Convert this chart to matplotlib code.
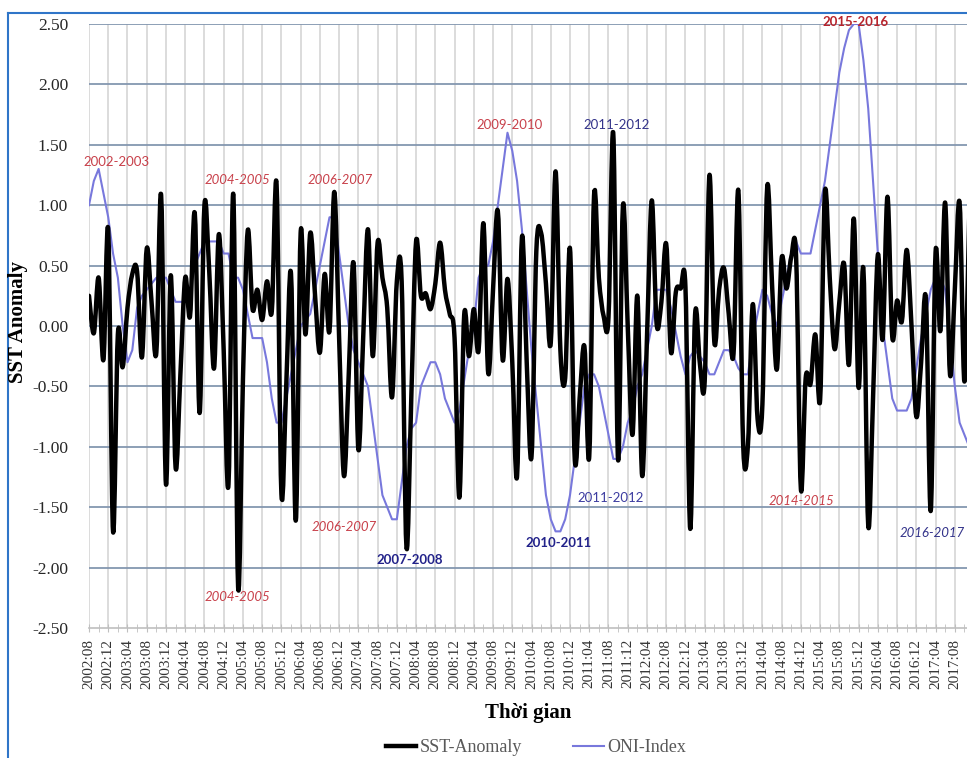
import matplotlib
matplotlib.use('Agg')
import matplotlib.pyplot as plt
from matplotlib.path import Path
from matplotlib.patches import PathPatch
from matplotlib.lines import Line2D
import numpy as np

# monthly series, 2002:08 onwards (month index 0 = 2002:08)
sst = [0.25, -0.06, 0.40, -0.28, 0.79, -1.70, -0.07, -0.34, 0.15, 0.43,
       0.45, -0.26, 0.64, 0.20, -0.22, 1.08, -1.31, 0.42, -1.17, -0.40,
       0.40, 0.08, 0.93, -0.72, 1.00, 0.45, -0.35, 0.76, -0.20, -1.31,
       1.09, -2.16, -0.45, 0.79, 0.14, 0.30, 0.05, 0.37, 0.12, 1.17,
       -1.39, -0.50, 0.43, -1.61, 0.77, -0.07, 0.77, 0.25, -0.22, 0.43,
       -0.04, 1.11, -0.10, -1.24, -0.40, 0.52, -1.02, -0.10, 0.80, -0.25,
       0.69, 0.40, 0.15, -0.59, 0.37, 0.37, -1.83, -0.60, 0.70, 0.25,
       0.27, 0.14, 0.35, 0.69, 0.30, 0.10, -0.10, -1.42, 0.09, -0.25,
       0.14, -0.20, 0.85, -0.39, 0.30, 0.95, -0.28, 0.39, -0.30, -1.24,
       0.73, -0.30, -1.08, 0.62, 0.77, 0.35, -0.14, 1.28, -0.20, -0.43,
       0.64, -1.11, -0.60, -0.17, -1.08, 1.08, 0.40, 0.08, 0.07, 1.59,
       -1.11, 0.99, 0.00, -0.90, 0.25, -1.24, -0.10, 1.04, 0.02, 0.20,
       0.68, -0.22, 0.28, 0.31, 0.32, -1.68, 0.09, -0.31, -0.46, 1.25,
       -0.13, 0.30, 0.48, 0.10, -0.23, 1.12, -0.98, -0.98, 0.18, -0.77,
       -0.65, 1.15, 0.35, -0.36, 0.56, 0.31, 0.57, 0.58, -1.35, -0.43,
       -0.48, -0.07, -0.61, 1.11, 0.40, -0.19, 0.20, 0.51, -0.32, 0.89,
       -0.51, 0.47, -1.65, -0.60, 0.59, -0.11, 1.07, -0.09, 0.21, 0.04,
       0.63, 0.00, -0.75, -0.30, 0.22, -1.53, 0.61, -0.04, 1.02, -0.40,
       0.30, 1.02, -0.46, 0.90]

oni = [1.0, 1.2, 1.3, 1.1, 0.9, 0.6, 0.4, 0.0, -0.3, -0.2,
       0.15, 0.25, 0.3, 0.35, 0.4, 0.4, 0.4, 0.3, 0.2, 0.2,
       0.2, 0.3, 0.5, 0.6, 0.7, 0.7, 0.7, 0.7, 0.6, 0.6,
       0.4, 0.4, 0.3, 0.1, -0.1, -0.1, -0.1, -0.3, -0.6, -0.8,
       -0.8, -0.6, -0.4, -0.2, 0.0, 0.05, 0.1, 0.3, 0.5, 0.7,
       0.9, 0.9, 0.6, 0.3, 0.0, -0.2, -0.3, -0.4, -0.5, -0.8,
       -1.1, -1.4, -1.5, -1.6, -1.6, -1.3, -1.0, -0.85, -0.8, -0.5,
       -0.4, -0.3, -0.3, -0.4, -0.6, -0.7, -0.8, -0.7, -0.45, -0.2,
       0.0, 0.4, 0.5, 0.5, 0.7, 1.0, 1.3, 1.6, 1.45, 1.2,
       0.8, 0.3, -0.2, -0.6, -1.0, -1.4, -1.6, -1.7, -1.7, -1.6,
       -1.4, -1.1, -0.8, -0.5, -0.4, -0.4, -0.5, -0.7, -0.9, -1.1,
       -1.1, -1.0, -0.8, -0.7, -0.5, -0.4, -0.2, 0.0, 0.3, 0.3,
       0.3, 0.15, -0.05, -0.25, -0.4, -0.25, -0.2, -0.25, -0.3, -0.4,
       -0.4, -0.3, -0.2, -0.2, -0.25, -0.35, -0.4, -0.4, -0.1, 0.1,
       0.3, 0.25, 0.1, 0.0, 0.2, 0.4, 0.6, 0.7, 0.6, 0.6,
       0.6, 0.8, 1.0, 1.2, 1.5, 1.8, 2.1, 2.3, 2.45, 2.5,
       2.5, 2.2, 1.8, 1.2, 0.6, 0.0, -0.3, -0.6, -0.7, -0.7,
       -0.7, -0.6, -0.35, -0.1, 0.1, 0.3, 0.4, 0.4, 0.3, -0.1,
       -0.5, -0.8, -0.9, -1.0]

start_year, start_month = 2002, 8
months = np.arange(len(sst))
tick_idx = list(range(0, 181, 4))
tick_labels = ['%d:%02d' % (start_year + (start_month - 1 + i) // 12,
                            (start_month - 1 + i) % 12 + 1) for i in tick_idx]

# event labels: text, month position, value position, colour, style, weight
events = [
    ('2002-2003', 5.8, 1.36, '#c8404a', 'normal', 'normal'),
    ('2004-2005', 30.8, 1.21, '#c8404a', 'italic', 'normal'),
    ('2006-2007', 52.2, 1.21, '#c8404a', 'italic', 'normal'),
    ('2009-2010', 87.5, 1.66, '#c8404a', 'normal', 'normal'),
    ('2011-2012', 109.6, 1.66, '#33338a', 'normal', 'normal'),
    ('2015-2016', 159.3, 2.52, '#b8242c', 'normal', 'bold'),
    ('2004-2005', 30.8, -2.24, '#c8404a', 'italic', 'normal'),
    ('2006-2007', 53.0, -1.66, '#c8404a', 'italic', 'normal'),
    ('2007-2008', 66.7, -1.94, '#22228a', 'normal', 'bold'),
    ('2010-2011', 97.7, -1.80, '#22228a', 'normal', 'bold'),
    ('2011-2012', 108.5, -1.42, '#3c3ca0', 'normal', 'normal'),
    ('2014-2015', 148.2, -1.45, '#c8404a', 'italic', 'normal'),
    ('2016-2017', 175.3, -1.71, '#33338a', 'italic', 'normal'),
]


def smooth_path(x, y):
    # Excel-style smoothed line: cubic Bezier through every data point
    n = len(x)
    verts = [(x[0], y[0])]
    codes = [Path.MOVETO]
    for i in range(n - 1):
        xp, yp = (x[i - 1], y[i - 1]) if i > 0 else (x[i], y[i])
        xn, yn = (x[i + 2], y[i + 2]) if i + 2 < n else (x[i + 1], y[i + 1])
        c1 = (x[i] + (x[i + 1] - xp) / 6.0, y[i] + (y[i + 1] - yp) / 6.0)
        c2 = (x[i + 1] - (xn - x[i]) / 6.0, y[i + 1] - (yn - y[i]) / 6.0)
        verts += [c1, c2, (x[i + 1], y[i + 1])]
        codes += [Path.CURVE4] * 3
    return Path(verts, codes)


W, H = 967, 758
fig = plt.figure(figsize=(W / 100, H / 100), dpi=100)
fig.patch.set_facecolor('white')

ax = fig.add_axes([89 / W, 130 / H, 184 * 4.81 / W, 604 / H])
ax.set_xlim(0, 184)
ax.set_ylim(-2.5, 2.5)

# grid
for t in tick_idx:
    ax.axvline(t, color='#d9d9d9', lw=1.3, zorder=0)
for v in np.arange(-2.0, 2.51, 0.5):
    ax.axhline(v, color='#8497b0', lw=1.3, zorder=0)

for s in ['top', 'right', 'left']:
    ax.spines[s].set_visible(False)
ax.spines['bottom'].set_color('#bfbfbf')
ax.spines['bottom'].set_linewidth(1.2)

ax.plot(months, oni, color='#7878dc', lw=1.5, zorder=2, clip_on=True)
ax.add_patch(PathPatch(smooth_path(months, sst), facecolor='none',
                       edgecolor='black', lw=3.2, capstyle='round',
                       joinstyle='round', zorder=3))

ax.set_xticks(tick_idx)
ax.set_xticklabels(tick_labels, rotation=90, family='Liberation Serif',
                   fontsize=11, color='#333333')
ax.set_xticks(list(range(2, 184, 4)), minor=True)
ax.tick_params(axis='x', which='both', direction='inout', length=6,
               color='#bfbfbf', pad=5)
ax.set_yticks(np.arange(-2.5, 2.51, 0.5))
ax.set_yticklabels(['%.2f' % v for v in np.arange(-2.5, 2.51, 0.5)],
                   family='Liberation Serif', fontsize=12.5, color='#262626')
ax.tick_params(axis='y', length=0, pad=15)

for txt, mx, vy, col, st, wt in events:
    ax.text(mx, vy, txt, color=col, fontstyle=st, fontweight=wt,
            family='Lato', fontsize=9.5, ha='center', va='center', zorder=4)

fig.text(18 / W, 1 - 322 / H, 'SST Anomaly', rotation=90, ha='center',
         va='center', family='Liberation Serif', fontweight='bold', fontsize=15)
fig.text(528 / W, 1 - 713 / H, 'Thời gian', ha='center', va='center',
         family='Liberation Serif', fontweight='bold', fontsize=15)

handles = [Line2D([], [], color='black', lw=3.2),
           Line2D([], [], color='#7878dc', lw=1.5)]
leg = fig.legend(handles, ['SST-Anomaly', 'ONI-Index'], loc='center',
                 bbox_to_anchor=(536 / W, 10 / H), ncol=2, frameon=False,
                 prop={'family': 'Liberation Serif', 'size': 13},
                 handlelength=1.7, handletextpad=0.2, columnspacing=2.8,
                 borderpad=0.1)
for t in leg.get_texts():
    t.set_color('#595959')

# chart-area outline (left and top edges visible in the screenshot)
fig.add_artist(Line2D([8 / W, 8 / W], [0, 1 - 13 / H], color='#2f75c8', lw=1.5))
fig.add_artist(Line2D([8 / W, 1.0], [1 - 13 / H, 1 - 13 / H], color='#2f75c8', lw=1.5))

fig.savefig('out.png', dpi=100, facecolor='white')
